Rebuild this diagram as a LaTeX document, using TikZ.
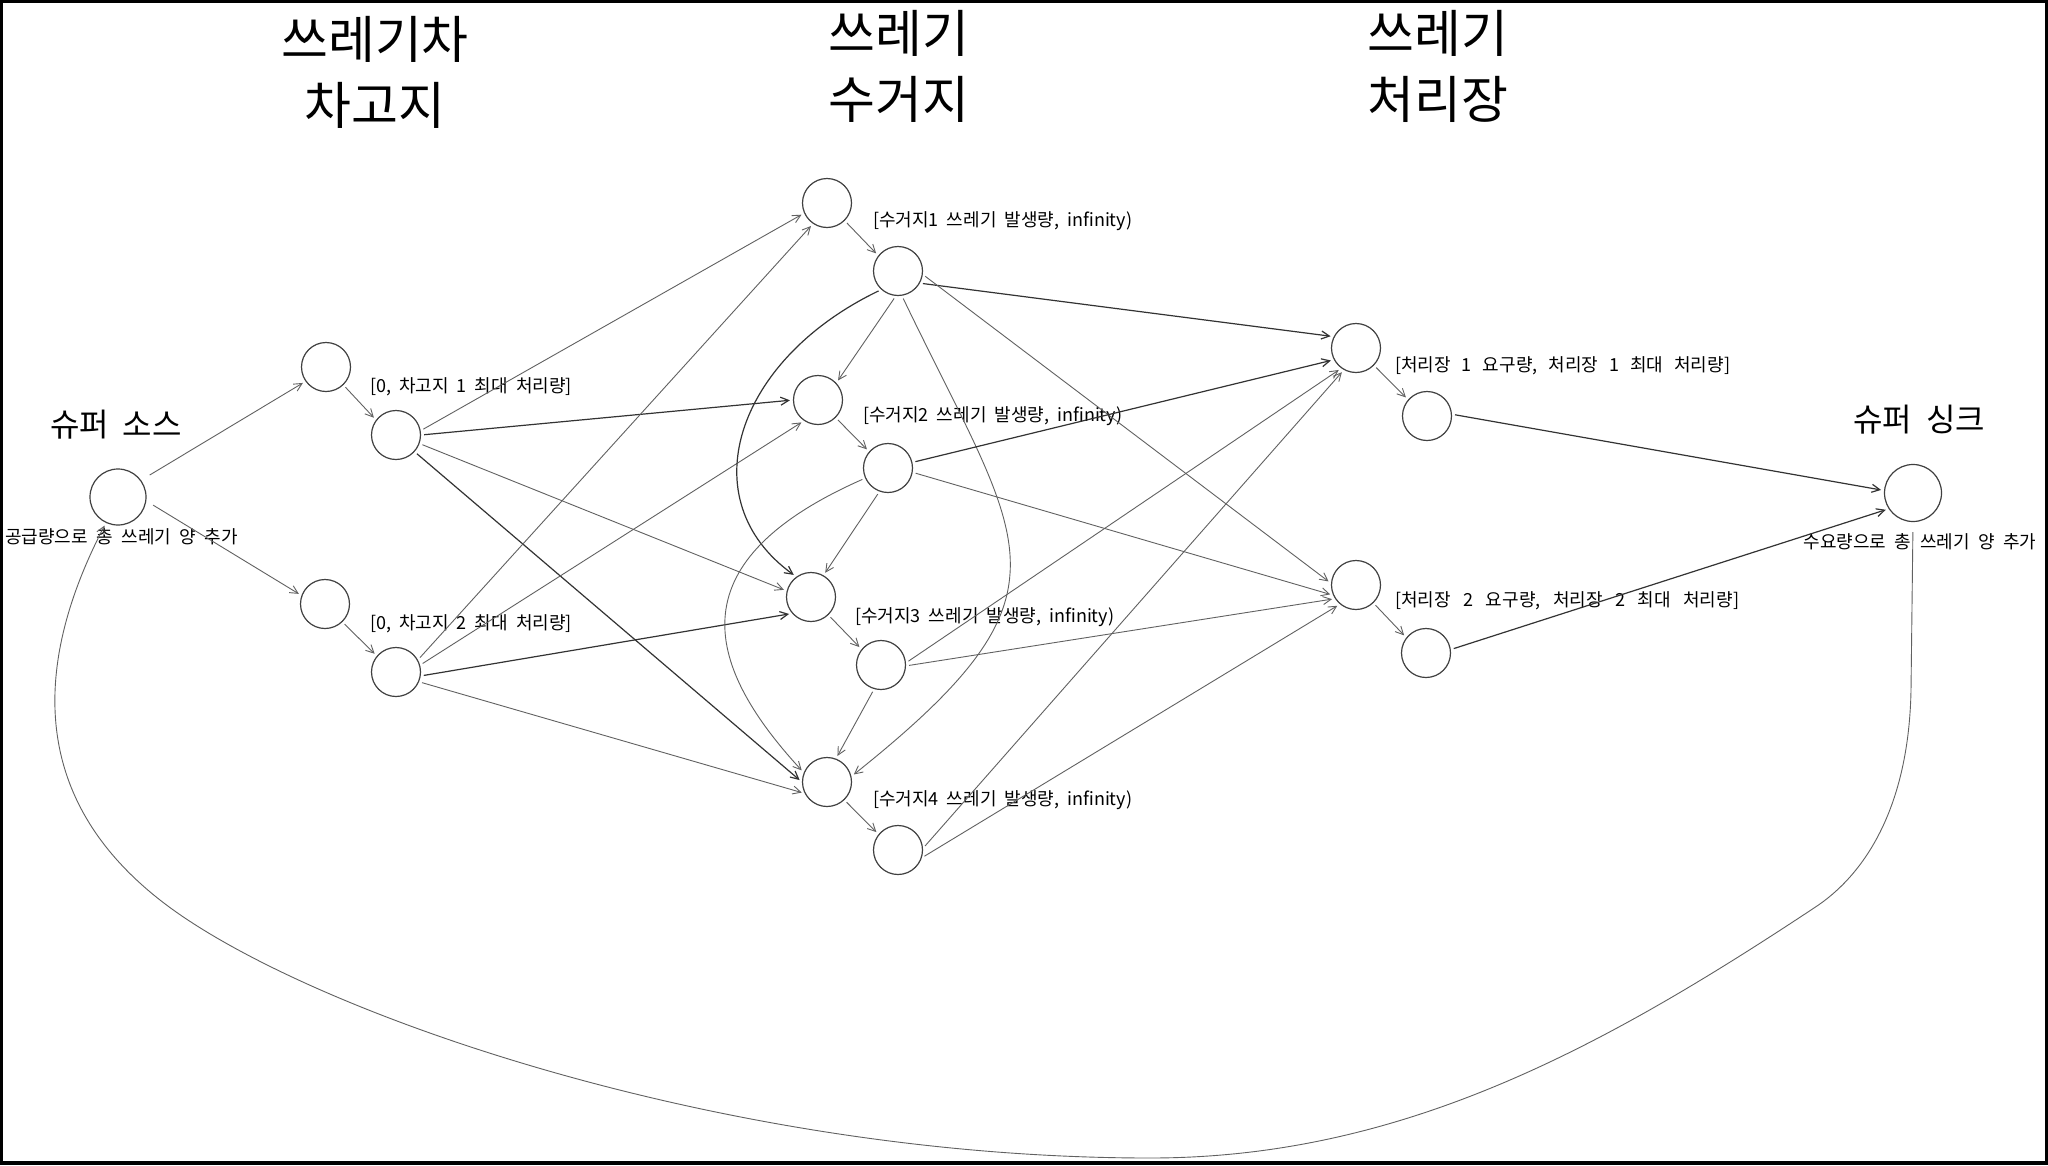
\documentclass[tikz,border=0pt]{standalone}
\usepackage{fontspec}
\setmainfont{Noto Sans CJK KR}
\usetikzlibrary{arrows.meta}
\newcommand\lblfont{\fontsize{18}{20}\selectfont\spaceskip 8pt\relax}
\newcommand\ttlfont{\fontsize{32}{36}\selectfont\spaceskip 14pt\relax}
\newcommand\notefont{\fontsize{18}{20}\selectfont\spaceskip 8.5pt\relax}
\newcommand\wsp[1]{\spaceskip #1\relax}
\tikzset{
 vtx/.style={circle,draw=black!75,line width=1.2pt,minimum size=49pt,inner sep=0pt},
 ed/.style={draw=black!62,line width=0.9pt,-{Straight Barb[length=8pt,width=8pt]},shorten >=3pt,shorten <=3pt},
 edd/.style={ed,draw=black!80,line width=1.2pt},
 lbl/.style={inner sep=0pt,anchor=west,font=\lblfont},
 hdr/.style={inner sep=0pt,align=center,font=\fontsize{51}{66}\selectfont},
 ttl/.style={inner sep=0pt,font=\ttlfont},
 note/.style={inner sep=0pt,font=\notefont},
}
\begin{document}
\begin{tikzpicture}[x=1pt,y=-1pt]
\fill[black] (0,0) rectangle (2048,1165);
\fill[white] (3,3) rectangle (2045,1161);
\useasboundingbox (0,0) rectangle (2048,1165);

% headers
\node[hdr] (h1) at (375,72) {쓰레기차\\차고지};
\node[hdr] (h2) at (899,66) {쓰레기\\수거지};
\node[hdr] (h3) at (1438,66) {쓰레기\\처리장};

% vertices
\node[vtx,minimum size=56pt] (S) at (118,497) {};
\node[vtx] (D1a) at (326,367) {};
\node[vtx] (D1b) at (396,435) {};
\node[vtx] (D2a) at (325,604) {};
\node[vtx] (D2b) at (396,672) {};
\node[vtx] (C1a) at (827,203) {};
\node[vtx] (C1b) at (898,271) {};
\node[vtx] (C2a) at (818,400) {};
\node[vtx] (C2b) at (888,468) {};
\node[vtx] (C3a) at (811,597) {};
\node[vtx] (C3b) at (881,665) {};
\node[vtx] (C4a) at (827,782) {};
\node[vtx] (C4b) at (898,850) {};
\node[vtx] (T1a) at (1356,348) {};
\node[vtx] (T1b) at (1427,416) {};
\node[vtx] (T2a) at (1356,585) {};
\node[vtx] (T2b) at (1426,653) {};
\node[vtx,minimum size=57pt] (K) at (1913,493) {};

% texts
\node[ttl] (ts) at (116,425) {슈퍼 소스};
\node[ttl] (tk) at (1919,420) {슈퍼 싱크};
\node[note,anchor=west] (ns) at (5,537) {공급량으로 총 쓰레기 양 추가};
\node[note] (nk) at (1920,542) {수요량으로 총 쓰레기 양 추가};

\node[lbl] (l1) at (370,387) {[0, 차고지 1 최대 처리량]};
\node[lbl] (l2) at (370,624) {[0, 차고지 2 최대 처리량]};
\node[lbl] (l3) at (873,221) {[수거지1 쓰레기 발생량, infinity)};
\node[lbl] (l4) at (863,416) {[수거지2 쓰레기 발생량, infinity)};
\node[lbl] (l5) at (855,617) {[수거지3 쓰레기 발생량, infinity)};
\node[lbl] (l6) at (873,800) {[수거지4 쓰레기 발생량, infinity)};
\node[lbl] (l7) at (1395,366) {\wsp{11pt}[처리장 1 요구량, 처리장 1 최대 처리량]};
\node[lbl] (l8) at (1395,601) {\wsp{12.5pt}[처리장 2 요구량, 처리장 2 최대 처리량]};

% edges
\draw[ed,shorten <=10pt] (S.36) -- (D1a.215);
\draw[ed,shorten <=8pt] (S.-8) -- (D2a.160);
\draw[ed] (D1a.-46) -- (D1b.143);
\draw[ed] (D2a.-46) -- (D2b.140);
\draw[ed] (D1b.10) -- (C1a.204);
\draw[edd] (D1b.0) -- (C2a.180);
\draw[ed] (D1b.-20) -- (C3a.166);
\draw[edd] (D1b.-42) -- (C4a.180);
\draw[ed] (D2b.29) -- (C1a.236);
\draw[ed] (D2b.16) -- (C2a.236);
\draw[edd] (D2b.-9) -- (C3a.221);
\draw[ed] (D2b.-23) -- (C4a.207);
\draw[ed] (C1a.-45) -- (C1b.142);
\draw[ed] (C1b.-95) -- (C2a.43);
\draw[edd] (C1b.-132) .. controls (735,360) and (690,500) .. (C3a.126);
\draw[ed] (C1b.-81) .. controls (1023,548) and (1085,590) .. (C4a.13);
\draw[edd] (C1b.-29) -- (T1a.153);
\draw[ed] (C1b.-8) -- (T2a.176);
\draw[ed] (C2a.-45) -- (C2b.139);
\draw[ed] (C2b.-110) -- (C3a.60);
\draw[ed] (C2b.204) .. controls (680,560) and (700,660) .. (C4a.158);
\draw[edd] (C2b.13) -- (T1a.208);
\draw[ed] (C2b.-10) -- (T2a.204);
\draw[ed] (C3a.-46) -- (C3b.141);
\draw[ed] (C3b.-106) -- (C4a.69);
\draw[ed] (C3b.5) -- (T1a.234);
\draw[ed] (C3b.-2) -- (T2a.213);
\draw[ed] (C4a.-46) -- (C4b.141);
\draw[ed] (C4b.4) -- (T1a.241);
\draw[ed] (C4b.-18) -- (T2a.230);
\draw[ed] (T1a.-44) -- (T1b.139);
\draw[ed] (T2a.-46) -- (T2b.142);
\draw[edd] (T1b.4) -- (K.175);
\draw[edd] (T2b.8) -- (K.213);
\draw[ed,shorten <=10pt] (K.-90) -- (1911,690) .. controls (1909,800) and (1870,870) .. (1817,906)
  .. controls (1600,1050) and (1400,1158) .. (1150,1158)
  .. controls (720,1158) and (300,1010) .. (160,900)
  .. controls (20,790) and (40,650) .. (S.-115);
\end{tikzpicture}
\end{document}
